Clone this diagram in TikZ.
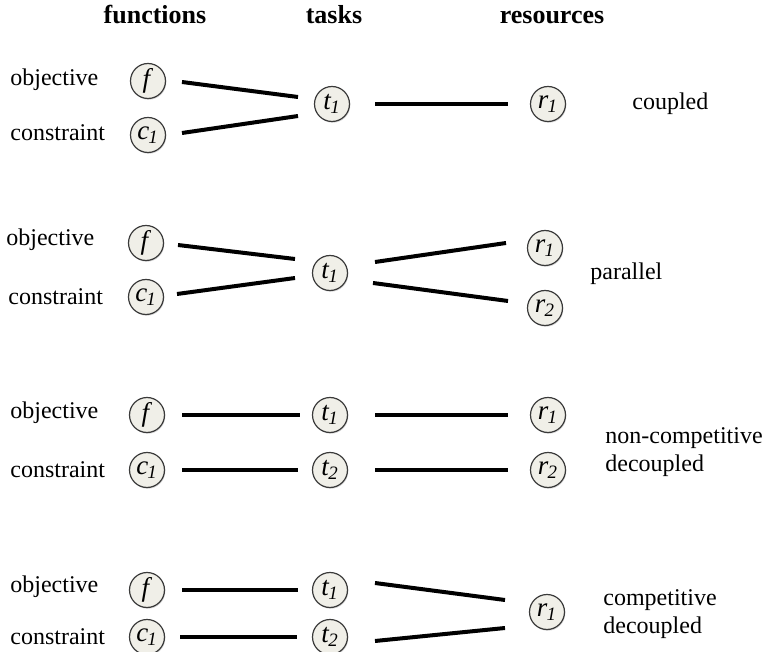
\documentclass[tikz,border=0pt]{standalone}
\usepackage{fontspec}
\setmainfont{Liberation Serif}
\usetikzlibrary{shadows}
\definecolor{circfill}{HTML}{F0EFE8}
\definecolor{circline}{HTML}{3A3A3A}
\newcommand\lab[2]{\textit{#1}\textsubscript{\kern-0.5pt\textit{#2}}}
\tikzset{
  var/.style={circle, draw=circline, line width=0.6pt, fill=circfill, minimum size=17.5pt, inner sep=0pt, outer sep=0pt,
    font=\fontsize{13.5}{15}\selectfont, drop shadow={opacity=0.35, shadow xshift=0.4pt, shadow yshift=-0.6pt}},
  lbl/.style={anchor=west, inner sep=0pt, font=\fontsize{12}{14}\selectfont},
  hdr/.style={anchor=base, inner sep=0pt, font=\fontsize{13}{15}\selectfont\bfseries},
  conn/.style={line width=2pt, black}
}
\begin{document}
\begin{tikzpicture}[x=0.5pt, y=-0.5pt]
\useasboundingbox (0,0) rectangle (766,652);
% headers
\node[hdr] (hf) at (155,24) {functions};
\node[hdr] (ht) at (334,24) {tasks};
\node[hdr] (hr) at (552,24) {resources};

% panel 1 coupled
\node[lbl] (o1) at (10,80) {objective};
\node[lbl] (k1) at (10,133) {constraint};
\node[var] (f1) at (148,81) {\textit{f}};
\node[var] (c1) at (148,135) {\lab{c}{1}};
\node[var] (t1) at (332,104) {\lab{t}{1}};
\node[var] (r1) at (548,104) {\lab{r}{1}};
\node[lbl] (d1) at (632,104) {coupled};
\draw[conn] ([shift={(34,1)}]f1.center) -- ([shift={(-34,-7)}]t1.center);
\draw[conn] ([shift={(34,-2)}]c1.center) -- ([shift={(-34,12)}]t1.center);
\draw[conn] ([shift={(43,0)}]t1.center) -- ([shift={(-40,0)}]r1.center);

% panel 2 parallel
\node[lbl] (o2) at (6,240) {objective};
\node[lbl] (k2) at (8,297) {constraint};
\node[var] (f2) at (146,243) {\textit{f}};
\node[var] (c2) at (146,297) {\lab{c}{1}};
\node[var] (t2) at (330,273) {\lab{t}{1}};
\node[var] (r2a) at (545,248) {\lab{r}{1}};
\node[var] (r2b) at (545,308) {\lab{r}{2}};
\node[lbl] (d2) at (590,274) {parallel};
\draw[conn] ([shift={(32,2)}]f2.center) -- ([shift={(-35,-14)}]t2.center);
\draw[conn] ([shift={(31,-3)}]c2.center) -- ([shift={(-35,5)}]t2.center);
\draw[conn] ([shift={(45,-11)}]t2.center) -- ([shift={(-39,-5)}]r2a.center);
\draw[conn] ([shift={(43,10)}]t2.center) -- ([shift={(-37,-7)}]r2b.center);

% panel 3 non-competitive decoupled
\node[lbl] (o3) at (10,413) {objective};
\node[lbl] (k3) at (10,470) {constraint};
\node[var] (f3) at (147,415) {\textit{f}};
\node[var] (c3) at (147,470) {\lab{c}{1}};
\node[var] (t3a) at (330,415) {\lab{t}{1}};
\node[var] (t3b) at (330,470) {\lab{t}{2}};
\node[var] (r3a) at (548,415) {\lab{r}{1}};
\node[var] (r3b) at (548,470) {\lab{r}{2}};
\node[lbl] (d3a) at (605,438) {non-competitive};
\node[lbl] (d3b) at (605,466) {decoupled};
\draw[conn] ([xshift=35*0.5pt]f3.center) -- ([xshift=-30*0.5pt]t3a.center);
\draw[conn] ([xshift=35*0.5pt]c3.center) -- ([xshift=-32*0.5pt]t3b.center);
\draw[conn] ([xshift=45*0.5pt]t3a.center) -- ([xshift=-40*0.5pt]r3a.center);
\draw[conn] ([xshift=45*0.5pt]t3b.center) -- ([xshift=-40*0.5pt]r3b.center);

% panel 4 competitive decoupled
\node[lbl] (o4) at (10,587) {objective};
\node[lbl] (k4) at (10,637) {constraint};
\node[var] (f4) at (147,590) {\textit{f}};
\node[var] (c4) at (147,637) {\lab{c}{1}};
\node[var] (t4a) at (330,590) {\lab{t}{1}};
\node[var] (t4b) at (330,637) {\lab{t}{2}};
\node[var] (r4) at (547,612) {\lab{r}{1}};
\node[lbl] (d4a) at (603,600) {competitive};
\node[lbl] (d4b) at (603,628) {decoupled};
\draw[conn] ([xshift=35*0.5pt]f4.center) -- ([xshift=-32*0.5pt]t4a.center);
\draw[conn] ([xshift=33*0.5pt]c4.center) -- ([xshift=-33*0.5pt]t4b.center);
\draw[conn] ([shift={(45,-7)}]t4a.center) -- ([shift={(-42,-12)}]r4.center);
\draw[conn] ([shift={(45,4)}]t4b.center) -- ([shift={(-42,16)}]r4.center);
\end{tikzpicture}
\end{document}
